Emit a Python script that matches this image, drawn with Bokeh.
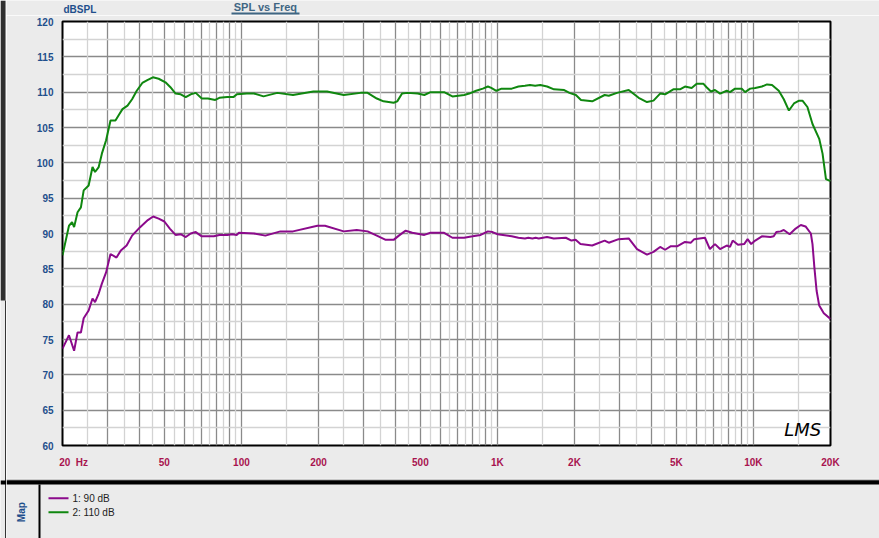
from bokeh.plotting import figure
from bokeh.models import FixedTicker, Grid, Label, Range1d
from bokeh.layouts import column, row
from bokeh.embed import file_html
from bokeh.resources import INLINE
from bokeh.core.properties import value

# ---------------- data ----------------
f_green = [20, 21.2, 21.8, 22.2, 22.9, 23.6, 24.2, 25.3, 26.2, 26.8,
           27.7, 28.5, 29.6, 30.8, 32.2, 33.1, 34.3, 35.9, 37.4, 39.0,
           41.0, 42.9, 45.1, 47.5, 50.5, 52.8, 55.3, 57.9, 60.6, 63.4,
           66.3, 70, 74, 79, 82, 88, 93, 96, 105, 112,
           122, 138, 159, 191, 216, 251, 292, 311, 338, 359,
           393, 406, 424, 445, 488, 518, 548, 619, 667, 741,
           776, 825, 877, 918, 946, 990, 1038, 1137, 1208, 1281,
           1340, 1404, 1470, 1563, 1663, 1823, 1911, 2025, 2120, 2345,
           2623, 2722, 2932, 3257, 3562, 3838, 4070, 4320, 4518, 4865,
           5164, 5403, 5737, 6003, 6370, 6559, 6825, 7076, 7406, 7865,
           8100, 8474, 9000, 9280, 9710, 10160, 10790, 11300, 11820, 12560,
           13140, 13760, 14400, 15080, 15540, 16250, 17010, 18070, 18620, 19200, 20000]
db_green = [86.9, 91.1, 91.6, 90.9, 93.0, 93.7, 96.1, 96.8, 99.4, 98.7,
            99.4, 101.3, 103.2, 106.0, 106.0, 106.7, 107.6, 108.1, 109.0, 110.2,
            111.3, 111.7, 112.1, 111.9, 111.4, 110.7, 109.8, 109.7, 109.3, 109.7,
            109.9, 109.1, 109.1, 108.9, 109.2, 109.3, 109.3, 109.7, 109.8, 109.8,
            109.4, 109.9, 109.6, 110.1, 110.1, 109.6, 109.9, 109.9, 109.1, 108.7,
            108.5, 108.7, 109.8, 109.9, 109.8, 109.6, 110.0, 110.0, 109.4, 109.6,
            109.8, 110.2, 110.5, 110.8, 110.6, 110.2, 110.5, 110.5, 110.8, 110.9,
            111.0, 110.9, 111.0, 110.8, 110.4, 110.3, 109.9, 109.6, 108.9, 108.7,
            109.6, 109.5, 109.9, 110.3, 109.2, 108.6, 108.8, 109.8, 109.7, 110.4,
            110.4, 110.8, 110.6, 111.2, 111.2, 110.7, 110.1, 110.3, 109.8, 110.2,
            110.0, 110.5, 110.5, 110.0, 110.5, 110.6, 110.8, 111.1, 111.0, 110.2,
            109.0, 107.4, 108.4, 108.8, 108.8, 107.9, 105.5, 103.4, 101.3, 97.7, 97.4]

f_purple = [20, 21.2, 22.2, 22.9, 23.6, 24.2, 25.3, 26.2, 26.8, 27.7,
            28.5, 29.6, 30.8, 32.5, 33.8, 35.6, 37.4, 40.2, 43.1, 45.2,
            47.5, 50, 52.5, 55.3, 57.9, 60.6, 63.4, 66.3, 70, 78,
            82, 88, 92, 96, 97.6, 112, 124, 142, 159, 198,
            212, 251, 282, 311, 338, 366, 393, 412, 438, 465,
            518, 548, 619, 667, 741, 800, 860, 918, 957, 1002,
            1137, 1208, 1281, 1320, 1370, 1410, 1450, 1563, 1660, 1850,
            1946, 2020, 2110, 2345, 2623, 2722, 2975, 3257, 3510, 3838,
            4070, 4320, 4518, 4760, 5050, 5403, 5700, 5872, 6465, 6760,
            7076, 7406, 7865, 8100, 8300, 8700, 9200, 9490, 9800, 10160,
            10790, 11650, 12000, 12290, 12760, 13140, 13850, 14620, 15310, 15980,
            16760, 17010, 17300, 17650, 18070, 18830, 20000]
db_purple = [73.7, 75.6, 73.4, 76.0, 76.0, 78.0, 79.1, 80.8, 80.3, 81.5,
             82.9, 84.5, 87.1, 86.6, 87.6, 88.3, 89.7, 90.9, 91.9, 92.4,
             92.1, 91.7, 90.7, 89.8, 89.9, 89.5, 90.0, 90.2, 89.6, 89.6,
             89.8, 89.8, 89.9, 89.8, 90.1, 90.0, 89.7, 90.3, 90.3, 91.1,
             91.1, 90.3, 90.5, 90.3, 89.7, 89.1, 89.1, 89.7, 90.4, 90.1,
             89.8, 90.1, 90.1, 89.4, 89.4, 89.6, 89.8, 90.3, 90.2, 89.9,
             89.6, 89.4, 89.3, 89.4, 89.3, 89.4, 89.3, 89.5, 89.3, 89.4,
             89.0, 89.1, 88.5, 88.3, 89.0, 88.7, 89.2, 89.3, 87.8, 87.0,
             87.4, 88.1, 87.7, 88.2, 88.2, 88.8, 88.7, 89.2, 89.4, 87.8,
             88.5, 87.8, 88.3, 88.1, 89.0, 88.4, 88.5, 89.2, 88.5, 89.0,
             89.6, 89.5, 89.6, 90.2, 90.3, 90.5, 89.9, 90.7, 91.2, 91.0,
             90.0, 88.5, 85.2, 81.9, 79.8, 78.7, 77.9]

series_names = ["1: 90 dB", "2: 110 dB"]
x_ticks = [20, 50, 100, 200, 500, 1000, 2000, 5000, 10000, 20000]
NB = "\u00a0"
x_tick_labels = [NB * 8 + "20" + NB * 2 + "Hz", "50", "100", "200", "500", "1K", "2K", "5K", "10K", "20K"]
y_ticks = [60, 65, 70, 75, 80, 85, 90, 95, 100, 105, 110, 115, 120]
title_text = "SPL vs Freq"
y_unit = "dBSPL"
logo_text = "LMS"

# grid line positions (major / intermediate)
x_grid_major = [m * d for d in (10, 100, 1000) for m in range(2, 10)] + [100, 1000, 10000, 20000]
x_grid_minor = [(m + 0.5) * d for d in (10, 100, 1000) for m in range(1, 10)
                if 20 < (m + 0.5) * d < 20000] + [15000]
y_grid_major = [65, 70, 75, 80, 85, 90, 95, 100, 105, 110, 115]
y_grid_minor = [62.5 + 5 * i for i in range(12)]

PURPLE = "#8b0a8b"
GREEN = "#0f870f"
BG = "#ebebeb"
BLUE = "#1f4f8c"
CRIMSON = "#a8134f"
TITLE_C = "#3f6683"
FONT = value("Liberation Sans")


def panel(w, h, xr, yr):
    f = figure(width=w, height=h, x_range=Range1d(*xr), y_range=Range1d(*yr),
               x_axis_type=None, y_axis_type=None, output_backend="svg", toolbar_location=None,
               min_border_left=0, min_border_right=0, min_border_top=0, min_border_bottom=0)
    f.frame_align = False
    f.background_fill_color = BG
    f.border_fill_color = BG
    f.outline_line_color = None
    return f


# ---------------- left dark strip ----------------
s = panel(6, 538, (0, 6), (538, 0))
s.quad(left=[0], right=[5], top=[0], bottom=[300], color="#2f2f2f", line_color=None)
s.quad(left=[4.6], right=[6], top=[300], bottom=[538], color="#222222", line_color=None)
s.quad(left=[0], right=[6], top=[480], bottom=[484], color="black", line_color=None)

# ---------------- top band: title + unit ----------------
t = panel(873, 15, (6, 879), (15, 0))
t.text(x=[265], y=[6.3], text=[title_text], text_align="center", text_baseline="middle",
       text_color=TITLE_C, text_font=FONT, text_font_style="bold", text_font_size="11px")
t.quad(left=[231], right=[299], top=[12.0], bottom=[14.0], color=TITLE_C, line_color=None)
t.text(x=[63], y=[9.3], text=[y_unit], text_align="left", text_baseline="middle",
       text_color=BLUE, text_font=FONT, text_font_style="bold", text_font_size="10px")

# ---------------- main chart ----------------
p = figure(width=873, height=463, x_axis_type="log",
           x_range=Range1d(20, 20000), y_range=Range1d(60, 120),
           output_backend="svg", toolbar_location=None,
           min_border_left=56, min_border_right=49, min_border_top=6, min_border_bottom=33)
p.frame_align = False
p.background_fill_color = "white"
p.border_fill_color = BG
p.outline_line_color = "black"
p.outline_line_width = 2

p.xgrid.ticker = FixedTicker(ticks=x_grid_major)
p.ygrid.ticker = FixedTicker(ticks=y_grid_major)
for g in (p.xgrid[0], p.ygrid[0]):
    g.grid_line_color = "#8a8a8a"
    g.grid_line_width = 1.3
p.add_layout(Grid(dimension=0, ticker=FixedTicker(ticks=x_grid_minor),
                  grid_line_color="#d3d3d3", grid_line_width=1.3, level="underlay"))
p.add_layout(Grid(dimension=1, ticker=FixedTicker(ticks=y_grid_minor),
                  grid_line_color="#d3d3d3", grid_line_width=1.3, level="underlay"))

p.xaxis.ticker = FixedTicker(ticks=x_ticks)
p.xaxis.major_label_overrides = {tk: lb for tk, lb in zip(x_ticks, x_tick_labels)}
p.yaxis.ticker = FixedTicker(ticks=y_ticks)
for ax, col in ((p.xaxis[0], CRIMSON), (p.yaxis[0], BLUE)):
    ax.axis_line_color = None
    ax.major_tick_line_color = None
    ax.minor_tick_line_color = None
    ax.major_label_text_color = col
    ax.major_label_text_font = "Liberation Sans"
    ax.major_label_text_font_style = "bold"
    ax.major_label_text_font_size = "10px"
p.xaxis.major_label_standoff = 5
p.yaxis.major_label_standoff = 3

p.line(f_purple, db_purple, line_color=PURPLE, line_width=2)
p.line(f_green, db_green, line_color=GREEN, line_width=2)

p.add_layout(Label(x=13200, y=62.3, text=logo_text, text_align="left", text_baseline="alphabetic",
                   text_color="black", text_font="DejaVu Sans", text_font_style="italic",
                   text_font_size="18px"))

# ---------------- map / legend panel ----------------
q = panel(873, 60, (6, 879), (538, 478))
q.quad(left=[6], right=[879], top=[478.2], bottom=[479.4], color="#c9c9c9", line_color=None)
q.quad(left=[6], right=[879], top=[479.8], bottom=[484], color="black", line_color=None)
q.quad(left=[38], right=[40], top=[484], bottom=[538], color="black", line_color=None)
q.text(x=[21], y=[511.7], text=["Map"], angle=1.5708, text_align="center", text_baseline="middle",
       text_color=BLUE, text_font=FONT, text_font_style="bold", text_font_size="10px")
for name, col, yy in zip(series_names, [PURPLE, GREEN], [497.7, 511.7]):
    q.line([48, 68], [yy, yy], line_color=col, line_width=2)
    q.text(x=[72], y=[yy], text=[name], text_align="left", text_baseline="middle",
           text_color="#222222", text_font=FONT, text_font_size="10px")

layout = row(s, column(t, p, q, spacing=0), spacing=0)
open("out.html", "w").write(file_html(layout, INLINE))
